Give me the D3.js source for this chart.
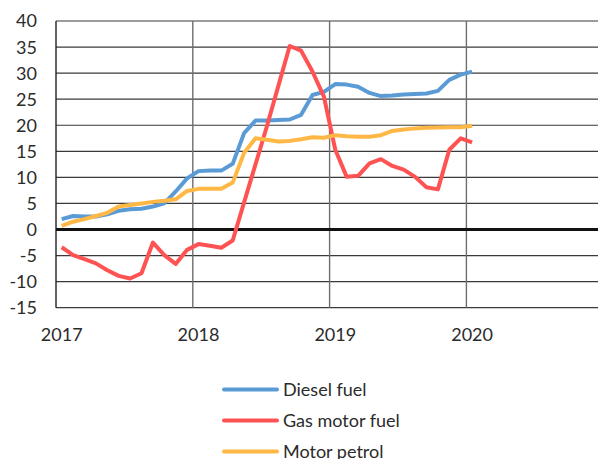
<!DOCTYPE html>
<html>
<head>
<meta charset="utf-8">
<script src="https://cdn.jsdelivr.net/npm/d3@7"></script>
<style>
  body { margin: 0; background: #fff; }
  text { font-family: Lato, "Open Sans", sans-serif; fill: #2b2b2b; }
</style>
</head>
<body>
<div id="chart"></div>
<script>
// monthly values, Jan 2017 .. Jan 2020
const years = [2017, 2018, 2019, 2020];
const yTicks = [-15, -10, -5, 0, 5, 10, 15, 20, 25, 30, 35, 40];
const seriesNames = ["Diesel fuel", "Gas motor fuel", "Motor petrol"];
const diesel = [2.0, 2.6, 2.5, 2.5, 2.9, 3.6, 3.9, 4.0, 4.4, 5.0, 7.3, 9.8,
                11.2, 11.3, 11.3, 12.6, 18.5, 20.9, 20.9, 21.0, 21.1, 22.0, 25.8, 26.4,
                27.9, 27.8, 27.4, 26.2, 25.6, 25.7, 25.9, 26.0, 26.1, 26.6, 28.7, 29.7,
                30.3];
const gas = [-3.4, -4.9, -5.7, -6.5, -7.8, -8.9, -9.4, -8.4, -2.5, -4.9, -6.6, -3.9,
             -2.8, -3.1, -3.5, -2.1, 5.2, 12.5, 19.8, 27.5, 35.2, 34.3, 30.3, 25.5,
             15.3, 10.1, 10.3, 12.7, 13.5, 12.2, 11.5, 10.1, 8.1, 7.7, 15.3, 17.5,
             16.7];
const petrol = [0.7, 1.5, 2.0, 2.6, 3.2, 4.4, 4.7, 5.0, 5.3, 5.5, 5.8, 7.4,
                7.8, 7.8, 7.8, 9.0, 14.7, 17.5, 17.2, 16.9, 17.0, 17.3, 17.7, 17.6,
                18.1, 17.9, 17.8, 17.8, 18.1, 18.9, 19.2, 19.4, 19.5, 19.55, 19.6, 19.6,
                19.9];
const colors = ["#5b9bd5", "#ff5353", "#ffb845"];

const width = 598, height = 459;
const plotLeft = 56, plotTop = 21, plotBottom = 307.7;

const svg = d3.select("#chart").append("svg")
    .attr("width", width)
    .attr("height", height);

// 48 monthly slots, points sit in the middle of each slot
const x = d3.scaleLinear().domain([0, 48]).range([plotLeft, plotLeft + 48 * 11.4]);
const y = d3.scaleLinear().domain([-15, 40]).range([plotBottom, plotTop]);

// horizontal grid
svg.append("g")
   .selectAll("line")
   .data(yTicks.filter(d => d !== 0))
   .enter().append("line")
   .attr("x1", plotLeft).attr("x2", width)
   .attr("y1", d => y(d)).attr("y2", d => y(d))
   .attr("stroke", "#3a3a3a")
   .attr("stroke-width", 1.2);

// vertical grid at year boundaries
svg.append("g")
   .selectAll("line")
   .data(d3.range(0, 5))
   .enter().append("line")
   .attr("x1", d => x(d * 12)).attr("x2", d => x(d * 12))
   .attr("y1", plotTop).attr("y2", plotBottom)
   .attr("stroke", d => d === 0 ? "#222" : "#6e6e6e")
   .attr("stroke-width", 1.4);

// zero line
svg.append("line")
   .attr("x1", plotLeft).attr("x2", width)
   .attr("y1", y(0)).attr("y2", y(0))
   .attr("stroke", "#111")
   .attr("stroke-width", 3);

// y tick labels
svg.append("g")
   .selectAll("text")
   .data(yTicks)
   .enter().append("text")
   .attr("x", 37)
   .attr("y", d => y(d))
   .attr("dy", "0.36em")
   .attr("text-anchor", "end")
   .style("font-size", "18px")
   .text(d => d);

// x labels under January of each year
svg.append("g")
   .selectAll("text")
   .data(years)
   .enter().append("text")
   .attr("x", (d, i) => x(i * 12 + 0.5))
   .attr("y", 341)
   .attr("text-anchor", "middle")
   .style("font-size", "18px")
   .text(d => d);

const line = d3.line()
    .x((d, i) => x(i + 0.5))
    .y(d => y(d));

[diesel, gas, petrol].forEach((s, k) => {
    svg.append("path")
       .datum(s)
       .attr("fill", "none")
       .attr("stroke", colors[k])
       .attr("stroke-width", 4)
       .attr("stroke-linejoin", "round")
       .attr("d", line);
});

// legend
const legend = svg.append("g");
seriesNames.forEach((name, k) => {
    const ly = 389.5 + k * 31;
    legend.append("line")
          .attr("x1", 224).attr("x2", 277)
          .attr("y1", ly).attr("y2", ly)
          .attr("stroke", colors[k])
          .attr("stroke-width", 4)
          .attr("stroke-linecap", "round");
    legend.append("text")
          .attr("x", 283)
          .attr("y", ly)
          .attr("dy", "0.36em")
          .style("font-size", "18px")
          .text(name);
});
</script>
</body>
</html>
